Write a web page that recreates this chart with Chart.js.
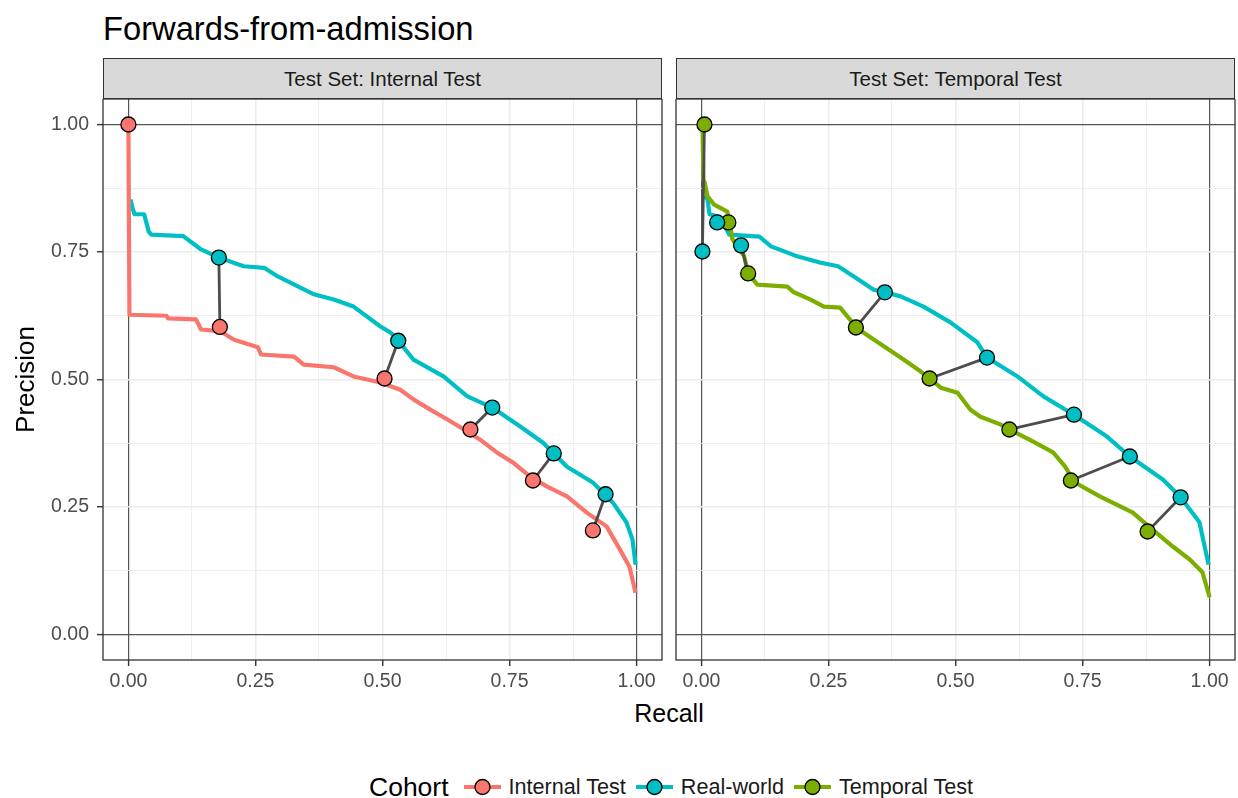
<!DOCTYPE html>
<html>
<head>
<meta charset="utf-8">
<script src="https://cdn.jsdelivr.net/npm/chart.js@4.4.1/dist/chart.umd.min.js"></script>
<style>
  html, body { margin: 0; padding: 0; background: #fff; overflow: hidden; }
  body { width: 1238px; height: 798px; position: relative; font-family: "Liberation Sans", Arial, sans-serif; }
  .abs { position: absolute; }
  #title { left: 103px; top: 12px; font-size: 32.7px; line-height: 33px; color: #000; }
  .strip { top: 58px; height: 41px; box-sizing: border-box; background: #D9D9D9; border: 1.3px solid #333;
           font-size: 20.5px; color: #1A1A1A; display: flex; align-items: center; justify-content: center; }
  #xtitle { left: 569px; width: 200px; top: 701px; text-align: center; font-size: 25px; line-height: 25px; color: #000; }
  #legend { left: 369px; top: 774px; height: 26px; display: flex; align-items: center; font-size: 21.6px; color: #1A1A1A; }
  #legend .lt { font-size: 26.5px; color: #000; margin-right: 15px; }
  #legend svg { margin-right: 8px; }
  #legend .lab { margin-right: 10px; }
</style>
</head>
<body>
<div id="title" class="abs">Forwards-from-admission</div>
<div class="abs strip" style="left:103px; width:559px;">Test Set: Internal Test</div>
<div class="abs strip" style="left:676px; width:559px;">Test Set: Temporal Test</div>
<canvas id="chartL" class="abs" width="668" height="600" style="left:0; top:99px;"></canvas>
<canvas id="chartR" class="abs" width="568" height="600" style="left:670px; top:99px;"></canvas>
<div id="xtitle" class="abs">Recall</div>
<div id="legend" class="abs"></div>

<script>
// colours (ggplot defaults)
var colInternal = '#F8766D', colReal = '#00BFC4', colTemporal = '#7CAE00';

// grid / tick positions
var majorTicks = [0, 0.25, 0.5, 0.75, 1];
var gridTicks = [0, 0.125, 0.25, 0.375, 0.5, 0.625, 0.75, 0.875, 1];

// ---- panel 1: Internal Test ----
var internalRecall = [0, 0.002, 0.075, 0.078, 0.133, 0.143, 0.18, 0.208, 0.255, 0.261, 0.326, 0.345, 0.404, 0.443, 0.496, 0.535,
  0.561, 0.594, 0.627, 0.667, 0.692, 0.725, 0.757, 0.79, 0.824, 0.863, 0.902, 0.941, 0.967, 0.986, 0.998];
var internalPrecision = [1.0, 0.627, 0.625, 0.62, 0.618, 0.598, 0.595, 0.578, 0.563, 0.549, 0.545, 0.529, 0.524, 0.506, 0.494, 0.48,
  0.461, 0.441, 0.422, 0.398, 0.382, 0.357, 0.337, 0.31, 0.29, 0.271, 0.239, 0.212, 0.167, 0.133, 0.082];
var realL_Recall = [0.004, 0.006, 0.01, 0.012, 0.031, 0.04, 0.045, 0.108, 0.143, 0.178, 0.227, 0.267, 0.294, 0.365, 0.404, 0.443,
  0.496, 0.516, 0.531, 0.561, 0.62, 0.667, 0.716, 0.771, 0.816, 0.863, 0.914, 0.953, 0.98, 0.992, 0.998];
var realL_Precision = [0.853, 0.845, 0.83, 0.824, 0.824, 0.79, 0.784, 0.781, 0.755, 0.739, 0.722, 0.719, 0.702, 0.667, 0.657, 0.643,
  0.604, 0.592, 0.576, 0.539, 0.506, 0.467, 0.445, 0.408, 0.376, 0.329, 0.298, 0.259, 0.22, 0.186, 0.137];
// threshold points (matched pairs)
var internalPtRecall = [0.0, 0.18, 0.504, 0.673, 0.796, 0.914];
var internalPtPrecision = [1.0, 0.603, 0.502, 0.402, 0.302, 0.204];
var realL_PtRecall = [null, 0.178, 0.531, 0.716, 0.837, 0.939];
var realL_PtPrecision = [null, 0.739, 0.576, 0.445, 0.355, 0.275];

// ---- panel 2: Temporal Test ----
var temporalRecall = [0.002, 0.004, 0.006, 0.012, 0.025, 0.04, 0.051, 0.061, 0.084, 0.092, 0.11, 0.169, 0.182, 0.214, 0.241, 0.273,
  0.292, 0.304, 0.353, 0.392, 0.431, 0.449, 0.471, 0.504, 0.529, 0.549, 0.588, 0.606, 0.653, 0.692, 0.715, 0.735, 0.784, 0.849,
  0.878, 0.927, 0.961, 0.986, 1.0];
var temporalPrecision = [1.0, 0.89, 0.888, 0.859, 0.843, 0.835, 0.829, 0.775, 0.742, 0.708, 0.686, 0.682, 0.671, 0.657, 0.643, 0.641,
  0.618, 0.602, 0.569, 0.543, 0.516, 0.502, 0.484, 0.474, 0.441, 0.427, 0.412, 0.402, 0.378, 0.357, 0.33, 0.298, 0.271, 0.239,
  0.214, 0.173, 0.147, 0.122, 0.073];
var realR_Recall = [0.006, 0.012, 0.016, 0.031, 0.037, 0.055, 0.114, 0.137, 0.19, 0.235, 0.269, 0.3, 0.339, 0.361, 0.392, 0.437,
  0.49, 0.543, 0.562, 0.622, 0.673, 0.733, 0.798, 0.843, 0.908, 0.943, 0.98, 0.998];
var realR_Precision = [0.86, 0.853, 0.824, 0.82, 0.818, 0.784, 0.78, 0.761, 0.741, 0.729, 0.722, 0.702, 0.676, 0.671, 0.663, 0.643,
  0.612, 0.573, 0.543, 0.506, 0.467, 0.431, 0.388, 0.349, 0.304, 0.269, 0.22, 0.137];
var temporalPtRecall = [0.006, 0.053, 0.092, 0.304, 0.449, 0.606, 0.727, 0.878];
var temporalPtPrecision = [1.0, 0.808, 0.708, 0.602, 0.502, 0.402, 0.302, 0.202];
var realR_PtRecall = [0.002, 0.031, 0.078, 0.361, 0.562, 0.733, 0.843, 0.943];
var realR_PtPrecision = [0.751, 0.808, 0.763, 0.671, 0.543, 0.431, 0.349, 0.269];

function xy(r, p) {
  var out = [];
  for (var i = 0; i < r.length; i++) {
    if (r[i] !== null) out.push({x: r[i], y: p[i]});
  }
  return out;
}

function curve(r, p, color) {
  return { data: xy(r, p), showLine: true, borderColor: color, borderWidth: 4.2, pointRadius: 0,
           pointHoverRadius: 0, tension: 0, borderJoinStyle: 'round', borderCapStyle: 'butt' };
}
function points(r, p, color) {
  return { data: xy(r, p), showLine: false, pointRadius: 7.5, pointHoverRadius: 7.5, backgroundColor: color,
           borderColor: '#000', borderWidth: 1.3 };
}
function segments(r1, p1, r2, p2) {
  var sets = [];
  for (var i = 0; i < r1.length; i++) {
    if (r1[i] === null || r2[i] === null) continue;
    sets.push({ data: [{x: r1[i], y: p1[i]}, {x: r2[i], y: p2[i]}], showLine: true, borderColor: '#4D4D4D',
                borderWidth: 2.8, pointRadius: 0, pointHoverRadius: 0 });
  }
  return sets;
}

var panelBorder = {
  id: 'panelBorder',
  afterDatasetsDraw: function(chart) {
    var a = chart.chartArea, c = chart.ctx;
    c.save();
    c.strokeStyle = '#333';
    c.lineWidth = 1.3;
    c.strokeRect(a.left, a.top, a.right - a.left, a.bottom - a.top);
    c.restore();
  }
};

function gridColor(ctx) {
  var v = ctx.tick ? ctx.tick.value : null;
  return (v === 0 || v === 1) ? '#555' : '#EBEBEB';
}
function gridWidth(ctx) {
  var v = ctx.tick ? ctx.tick.value : null;
  if (v === 0 || v === 1) return 1.2;
  return majorTicks.indexOf(v) >= 0 ? 1.5 : 0.8;
}
function tickColor(ctx) {
  var v = ctx.tick ? ctx.tick.value : null;
  return majorTicks.indexOf(v) >= 0 ? '#333' : 'rgba(0,0,0,0)';
}
function setTicks(scale) {
  scale.ticks = gridTicks.map(function(v) { return {value: v}; });
}
function label(v) {
  return majorTicks.indexOf(v) >= 0 ? v.toFixed(2) : '';
}

var tickFont = { family: '"Liberation Sans", Arial, sans-serif', size: 19.5 };

function makeOptions(showY, yWidth, padRight) {
  return {
    responsive: false,
    animation: false,
    events: [],
    layout: { padding: { left: 0, right: padRight, top: 0, bottom: 0 }, autoPadding: false },
    plugins: { legend: { display: false }, tooltip: { enabled: false } },
    scales: {
      x: {
        type: 'linear', min: -0.05, max: 1.05,
        afterBuildTicks: setTicks,
        afterFit: function(s) { s.height = 39; s.paddingLeft = 0; s.paddingRight = 0; },
        border: { display: false },
        grid: { color: gridColor, lineWidth: gridWidth, tickColor: tickColor, tickLength: 6, tickWidth: 1.4 },
        ticks: { autoSkip: false, maxRotation: 0, padding: 4, color: '#4D4D4D', font: tickFont,
                 callback: function(v) { return label(v); } }
      },
      y: {
        type: 'linear', min: -0.05, max: 1.05,
        afterBuildTicks: setTicks,
        afterFit: function(s) { s.width = yWidth; s.paddingTop = 0; s.paddingBottom = 0; },
        border: { display: false },
        grid: { color: gridColor, lineWidth: gridWidth, tickColor: tickColor, tickLength: 6, tickWidth: 1.4,
                drawTicks: showY },
        ticks: { display: showY, autoSkip: false, padding: 8, color: '#4D4D4D', font: tickFont,
                 callback: function(v) { return label(v); } },
        title: { display: showY, text: 'Precision', color: '#000', padding: { top: 11, bottom: 0 },
                 font: { family: '"Liberation Sans", Arial, sans-serif', size: 26 } }
      }
    }
  };
}

// first dataset is drawn on top
var leftSets = [points(internalPtRecall, internalPtPrecision, colInternal),
                points(realL_PtRecall, realL_PtPrecision, colReal)]
  .concat(segments(internalPtRecall, internalPtPrecision, realL_PtRecall, realL_PtPrecision))
  .concat([curve(internalRecall, internalPrecision, colInternal),
           curve(realL_Recall, realL_Precision, colReal)]);

var rightSets = [points(realR_PtRecall, realR_PtPrecision, colReal),
                 points(temporalPtRecall, temporalPtPrecision, colTemporal)]
  .concat(segments(temporalPtRecall, temporalPtPrecision, realR_PtRecall, realR_PtPrecision))
  .concat([curve(temporalRecall, temporalPrecision, colTemporal),
           curve(realR_Recall, realR_Precision, colReal)]);

new Chart(document.getElementById('chartL'), {
  type: 'scatter', data: { datasets: leftSets }, options: makeOptions(true, 103, 6), plugins: [panelBorder]
});
new Chart(document.getElementById('chartR'), {
  type: 'scatter', data: { datasets: rightSets }, options: makeOptions(false, 6, 3), plugins: [panelBorder]
});

// legend
var cohorts = ['Internal Test', 'Real-world', 'Temporal Test'];
var cohortColors = [colInternal, colReal, colTemporal];
var lg = document.getElementById('legend');
var html = '<span class="lt">Cohort</span>';
cohorts.forEach(function(name, i) {
  html += '<svg width="37" height="20"><line x1="0" y1="10" x2="37" y2="10" stroke="' + cohortColors[i] +
          '" stroke-width="4.2"/><circle cx="18.5" cy="10" r="7.5" fill="' + cohortColors[i] +
          '" stroke="#000" stroke-width="1.3"/></svg><span class="lab">' + name + '</span>';
});
lg.innerHTML = html;
</script>
</body>
</html>
